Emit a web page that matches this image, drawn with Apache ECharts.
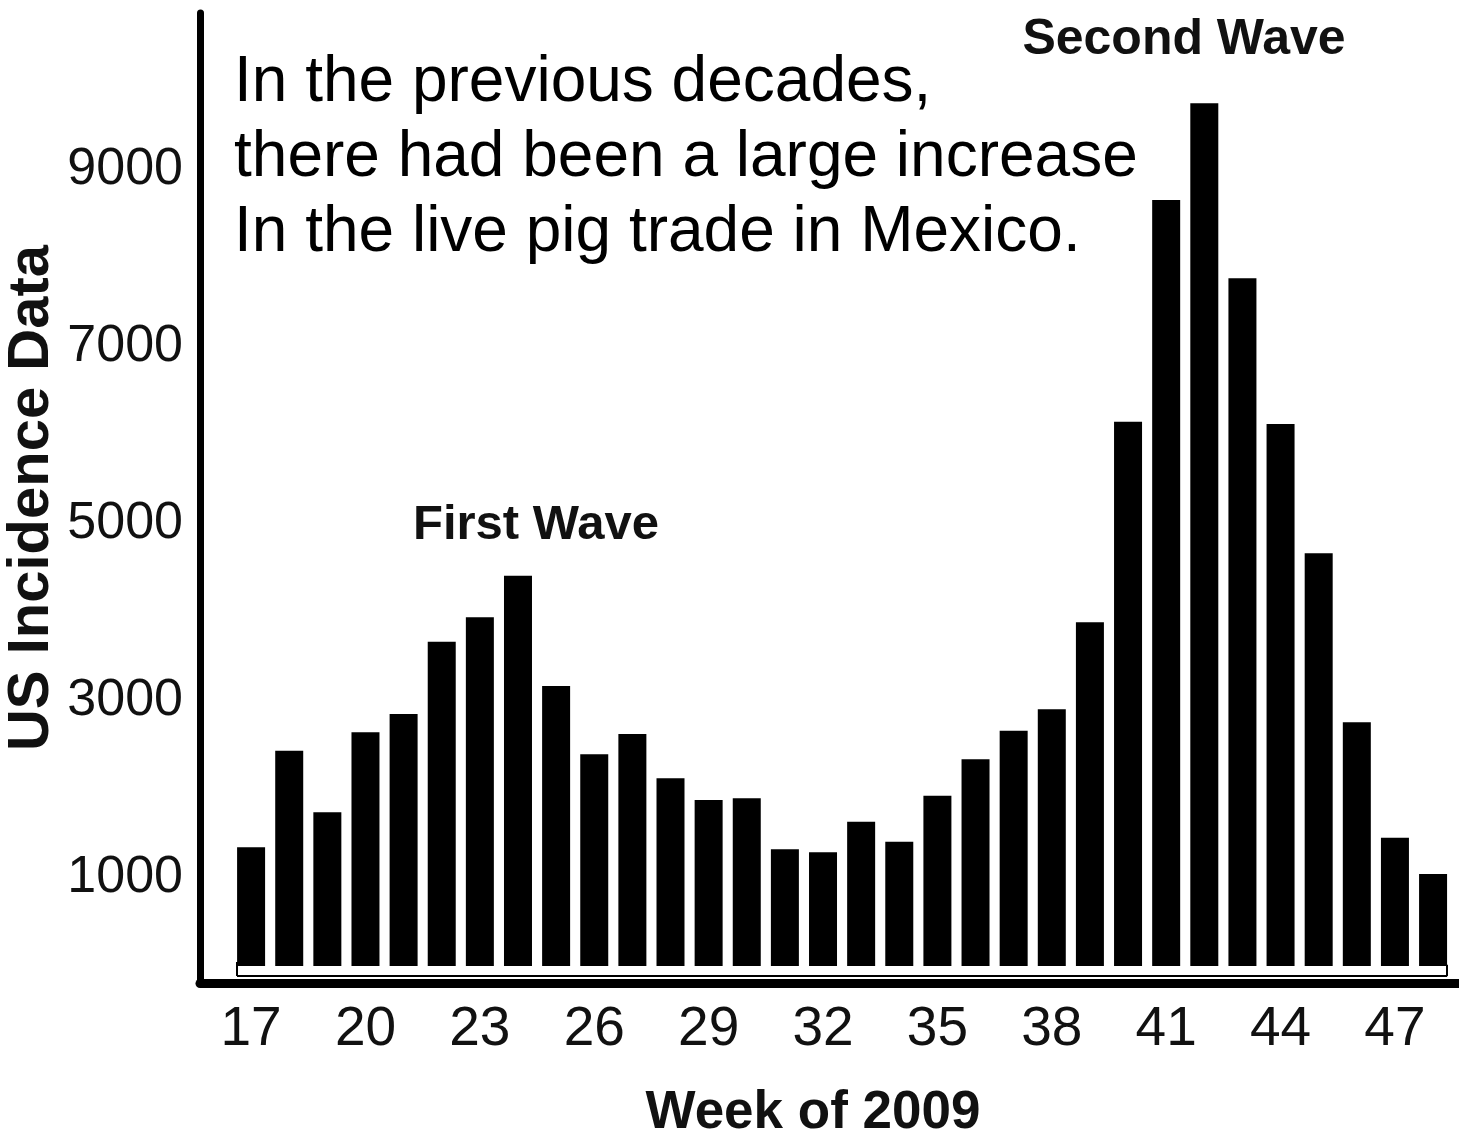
<!DOCTYPE html>
<html>
<head>
<meta charset="utf-8">
<script src="https://cdn.jsdelivr.net/npm/echarts@6/dist/echarts.min.js"></script>
<style>
html,body{margin:0;padding:0;background:#fff;}
#chart{width:1459px;height:1141px;}
</style>
</head>
<body>
<div id="chart"></div>
<script>
// ---- data ----
const weeks = [17,18,19,20,21,22,23,24,25,26,27,28,29,30,31,32,33,34,35,36,37,38,39,40,41,42,43,44,45,46,47,48];
const incidence = [1341,2433,1737,2641,2847,3665,3940,4410,3164,2392,2621,2121,1876,1895,1319,1285,1631,1405,1924,2335,2659,2900,3884,6150,8655,9748,7770,6124,4663,2754,1450,1040];
const xTickLabels = [17,20,23,26,29,32,35,38,41,44,47];
const yTickLabels = [1000,3000,5000,7000,9000];
const noteLines = ["In the previous decades,", "there had been a large increase", "In the live pig trade in Mexico."];
const firstWaveLabel = "First Wave";
const secondWaveLabel = "Second Wave";
const xTitle = "Week of 2009";
const yTitle = "US Incidence Data";

const TICKFONT = "'Liberation Sans', Arial, sans-serif";
const SANS = "'Liberation Sans', Arial, sans-serif";

const halfBar = 0.37;
const firstWeek = weeks[0], lastWeek = weeks[weeks.length - 1];

const chart = echarts.init(document.getElementById('chart'), null, {renderer: 'canvas'});
const option = {
  animation: false,
  backgroundColor: '#ffffff',
  grid: {left: 200, right: 0, top: 13, bottom: 158, containLabel: false, outerBoundsMode: 'none'},
  xAxis: {
    type: 'value',
    min: 15.66,
    max: 48.68,
    splitLine: {show: false},
    axisTick: {show: false},
    axisLine: {show: true, onZero: false, lineStyle: {color: '#000', width: 9}},
    axisLabel: {customValues: xTickLabels, margin: 19, fontFamily: TICKFONT, fontSize: 55, color: '#111',
      formatter: v => String(v)},
    name: xTitle,
    nameLocation: 'middle',
    nameGap: 104,
    nameMoveOverlap: false,
    nameTextStyle: {fontFamily: SANS, fontWeight: 'bold', fontSize: 53, color: '#111', padding: [0, 33, 0, 0]}
  },
  yAxis: {
    type: 'value',
    min: -192,
    max: 10768,
    splitLine: {show: false},
    axisTick: {show: false},
    axisLine: {show: true, onZero: false, lineStyle: {color: '#000', width: 7}},
    axisLabel: {customValues: yTickLabels, margin: 17, fontFamily: TICKFONT, fontSize: 52, color: '#111',
      formatter: v => String(v)},
    name: yTitle,
    nameLocation: 'middle',
    nameGap: 139,
    nameMoveOverlap: false,
    nameTextStyle: {fontFamily: SANS, fontWeight: 'bold', fontSize: 58, color: '#111'}
  },
  series: [{
    type: 'bar',
    data: weeks.map((w, i) => [w, incidence[i]]),
    barWidth: 28,
    itemStyle: {color: '#000'},
    silent: true,
    markLine: {
      silent: true,
      symbol: ['none', 'none'],
      label: {show: false},
      lineStyle: {color: '#000', width: 2, type: 'solid'},
      data: [
        [{coord: [firstWeek - halfBar, -113]}, {coord: [lastWeek + halfBar, -113]}],
        [{coord: [firstWeek - halfBar, -113]}, {coord: [firstWeek - halfBar, 45]}],
        [{coord: [lastWeek + halfBar, -113]}, {coord: [lastWeek + halfBar, 15]}]
      ]
    }
  }],
  graphic: [
    {
      type: 'text', x: 234, y: 46,
      style: {text: noteLines.join('\n'), fontFamily: SANS, fontSize: 64, lineHeight: 75, fill: '#000'}
    },
    {
      type: 'text', x: 536, y: 525,
      style: {text: firstWaveLabel, fontFamily: SANS, fontWeight: 'bold', fontSize: 49, fill: '#111', align: 'center', verticalAlign: 'middle'}
    },
    {
      type: 'text', x: 1184, y: 40,
      style: {text: secondWaveLabel, fontFamily: SANS, fontWeight: 'bold', fontSize: 50, fill: '#111', align: 'center', verticalAlign: 'middle'}
    }
  ]
};
chart.setOption(option);
</script>
</body>
</html>
